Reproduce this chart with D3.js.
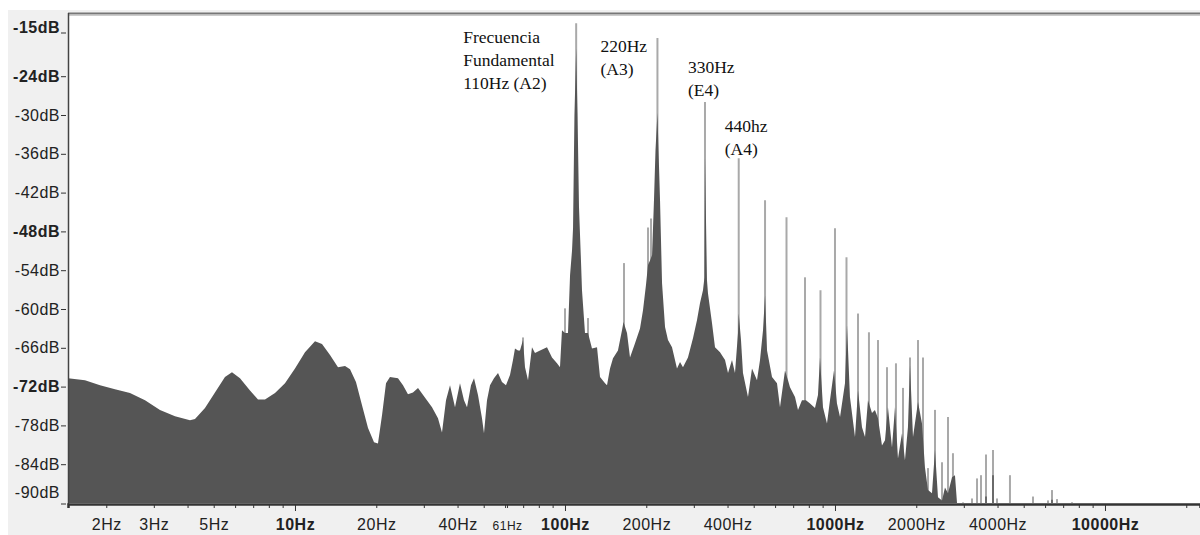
<!DOCTYPE html>
<html>
<head>
<meta charset="utf-8">
<script src="https://cdn.jsdelivr.net/npm/d3@7/dist/d3.min.js"></script>
<style>
  body { margin: 0; background: #fff; }
  #chart { width: 1200px; height: 535px; }
  .axis text { font-family: "Liberation Sans", Arial, sans-serif; font-size: 16px; fill: #222; letter-spacing: 0.5px; }
  .note { font-family: "Liberation Serif", "Times New Roman", serif; font-size: 17.5px; fill: #111; }
</style>
</head>
<body>
<div id="chart"></div>
<script>
/* spectrum envelope: frequency (Hz) and level (dB) */
const envFreq = [1.443, 1.668, 1.896, 2.154, 2.448, 2.783, 3.162, 3.594, 4.084, 4.262,
  4.642, 5.054, 5.503, 5.843, 6.256, 6.813, 7.295, 7.743, 8.434, 9.183,
  10, 10.89, 11.86, 12.59, 13.48, 14.43, 15.32, 15.99, 16.82, 17.71,
  18.64, 19.62, 20.29, 21.01, 21.73, 22.48, 24.07, 25.12, 26.21, 27.35,
  28.55, 30.04, 32.17, 33.85, 35.03, 36.25, 37.51, 39.14, 40.84, 42.26,
  43.36, 44.87, 46.03, 47.62, 49.27, 50.12, 51.42, 52.76, 54.58, 56.48,
  58.43, 60.45, 62.56, 64.18, 65.28, 66.98, 68.13, 69.9, 71.11, 72.95,
  75.47, 77.43, 80.81, 85.77, 89.51, 93.41, 95.83, 97.47, 100, 102.6,
  104.4, 106.2, 107.1, 108.4, 110, 111.3, 112.7, 114.6, 115.6, 118.6,
  121.7, 125.9, 131.4, 134.8, 140.7, 143.1, 146.8, 150.6, 157.1, 162.6,
  164.7, 169.7, 174.1, 181.7, 189.6, 194.5, 199.5, 203, 206.5, 210.1,
  213.6, 216.4, 220, 222, 224.9, 228.8, 234.7, 240.7, 249.1, 259.9,
  266.7, 273.5, 285.4, 298, 308.3, 316.2, 324.4, 328.6, 330, 335.6,
  338.6, 350.4, 359.4, 375.1, 391.5, 401.6, 415.5, 426.2, 437.3, 440,
  448.6, 456.3, 476.2, 492.7, 514.2, 527.6, 541.3, 550.7, 560.2, 584.4,
  609.8, 625.6, 652.9, 669.8, 681.3, 711, 729.5, 754.7, 780.8, 808.1,
  843.2, 865, 879.9, 902.7, 934, 958.2, 991.5, 1017, 1044, 1089,
  1108, 1136, 1186, 1217, 1259, 1292, 1325, 1371, 1406, 1443,
  1493, 1532, 1571, 1626, 1668, 1711, 1771, 1816, 1863, 1896,
  1945, 2030, 2100, 2154, 2210, 2287, 2346, 2407, 2491, 2555,
  2621, 2713, 2782, 2831];
const envDb = [-70.7, -71.0, -71.8, -72.4, -73.0, -74.1, -75.6, -76.6, -77.2, -77.0,
  -75.3, -72.9, -70.5, -69.8, -70.7, -72.6, -74.0, -74.0, -73.0, -71.5,
  -69.2, -66.7, -65.0, -65.4, -67.1, -69.0, -68.8, -69.3, -71.3, -74.9,
  -78.4, -80.6, -80.8, -76.4, -71.5, -70.5, -70.7, -71.8, -73.2, -72.9,
  -72.2, -73.5, -75.2, -76.9, -79.1, -74.1, -71.8, -75.2, -71.5, -74.1,
  -75.2, -71.8, -70.7, -73.3, -76.9, -79.2, -74.1, -71.8, -70.7, -69.9,
  -71.3, -71.8, -70.2, -67.9, -66.1, -66.4, -66.4, -64.8, -69.0, -71.0,
  -65.9, -66.8, -66.4, -65.9, -67.5, -68.4, -69.0, -63.3, -63.7, -63.7,
  -54.8, -50.9, -47.5, -30.0, -19.7, -30.0, -44.3, -52.5, -57.1, -63.7,
  -63.7, -66.1, -65.9, -70.5, -71.5, -71.8, -69.2, -67.6, -66.4, -63.3,
  -62.0, -63.7, -67.5, -65.3, -63.0, -60.2, -56.3, -53.2, -52.5, -51.7,
  -43.2, -35.4, -29.7, -35.4, -43.2, -56.0, -62.8, -64.8, -65.9, -69.2,
  -68.2, -69.0, -67.5, -64.5, -61.7, -59.1, -57.1, -55.1, -36.7, -55.5,
  -57.6, -62.2, -65.9, -66.7, -67.9, -69.9, -67.9, -69.9, -63.7, -60.7,
  -64.8, -69.9, -73.6, -69.2, -71.0, -67.9, -63.3, -57.9, -66.4, -70.5,
  -71.5, -75.2, -69.5, -71.0, -72.1, -73.6, -75.6, -74.1, -74.1, -74.6,
  -75.3, -73.3, -67.5, -75.2, -77.7, -74.1, -69.5, -74.6, -76.7, -71.5,
  -62.5, -73.6, -79.8, -72.6, -78.3, -79.8, -74.1, -76.1, -75.6, -76.9,
  -81.1, -80.3, -75.2, -81.4, -75.2, -83.1, -79.2, -83.4, -78.3, -68.7,
  -79.8, -74.4, -77.7, -84.5, -88.0, -88.5, -81.8, -89.1, -89.6, -87.6,
  -88.5, -86.0, -85.7, -90.0];

/* harmonic peaks (light lines) */
const peakFreq = [69.9, 100, 110, 121.7, 165.4, 203, 208.3, 220, 330, 440,
  550.7, 661.3, 774.4, 883.7, 1000, 1103, 1217, 1336, 1443, 1558,
  1682, 1786, 1896, 2030, 2118, 2210, 2346, 2491, 2621, 2735,
  2980, 3217, 3358, 3474, 3625, 3848, 3981, 4447, 5413, 6151,
  6364, 6643, 7548];
const peakDb = [-64.4, -59.9, -15.8, -61.4, -52.9, -47.4, -46.0, -18.1, -28.0, -36.7,
  -43.2, -45.8, -55.1, -57.1, -47.5, -52.0, -60.7, -63.6, -64.8, -69.0,
  -68.4, -72.2, -67.5, -64.8, -67.5, -84.6, -75.6, -83.7, -76.7, -82.3,
  -89.9, -89.3, -86.2, -85.7, -82.5, -81.8, -89.3, -85.7, -89.0, -89.6,
  -88.0, -89.4, -89.9];

/* isolated dark lines beyond the main body */
const darkFreq = [3625, 3848, 6364];
const darkDb = [-89.0, -85.7, -89.5];

const yTicks = [-15, -24, -30, -36, -42, -48, -54, -60, -66, -72, -78, -84, -90];
const yBold = [-15, -24, -48, -72];
const xLabels = [2, 3, 5, 10, 20, 40, 61, 100, 200, 400, 1000, 2000, 4000, 10000];
const xBold = [10, 100, 1000, 10000];

const noteText = [["Frecuencia", "Fundamental", "110Hz (A2)"], ["220Hz", "(A3)"], ["330Hz", "(E4)"], ["440hz", "(A4)"]];
const noteFreq = [110, 220, 330, 440];

const width = 1200, height = 535;
const margin = { top: 13, left: 68, right: 0, bottom: 31 };

const svg = d3.select("#chart").append("svg")
  .attr("width", width).attr("height", height);

// gray frame + white plot
svg.append("rect").attr("x", 8).attr("y", 10).attr("width", width - 8).attr("height", height - 10).attr("fill", "#f0f0f0");
svg.append("rect").attr("x", margin.left).attr("y", margin.top)
  .attr("width", width - margin.left).attr("height", height - margin.bottom - margin.top).attr("fill", "#fff");

const x = d3.scaleLog().domain([1.443, 22486]).range([margin.left, width - margin.right]);
const y = d3.scaleLinear().domain([-90, -15]).range([503, 18]);

const env = envFreq.map((f, i) => ({ f: f, db: envDb[i] }));
const peaks = peakFreq.map((f, i) => ({ f: f, db: peakDb[i] }));
const darks = darkFreq.map((f, i) => ({ f: f, db: darkDb[i] }));

// light peak lines behind the body
svg.append("g").selectAll("line").data(peaks).join("line")
  .attr("x1", d => x(d.f)).attr("x2", d => x(d.f))
  .attr("y1", y(-90)).attr("y2", d => y(d.db))
  .attr("stroke", "#a9a9a9").attr("stroke-width", 2);

const area = d3.area()
  .x(d => x(d.f))
  .y0(y(-90))
  .y1(d => y(d.db));

svg.append("path").datum(env)
  .attr("d", area)
  .attr("fill", "#555");

svg.append("g").selectAll("line").data(darks).join("line")
  .attr("x1", d => x(d.f)).attr("x2", d => x(d.f))
  .attr("y1", y(-90)).attr("y2", d => y(d.db))
  .attr("stroke", "#555").attr("stroke-width", 1.5);

// borders
svg.append("line").attr("x1", margin.left).attr("x2", width).attr("y1", 13.5).attr("y2", 13.5).attr("stroke", "#777").attr("stroke-width", 2);
svg.append("line").attr("x1", margin.left).attr("x2", width).attr("y1", 15.5).attr("y2", 15.5).attr("stroke", "#ccc").attr("stroke-width", 1);
svg.append("line").attr("x1", 68.5).attr("x2", 68.5).attr("y1", 13).attr("y2", 505).attr("stroke", "#444").attr("stroke-width", 1.5);

// y axis
const yAxis = svg.append("g").attr("class", "axis")
  .attr("transform", "translate(66,0)")
  .call(d3.axisLeft(y).tickValues(yTicks).tickSize(5).tickPadding(1).tickFormat(d => d + "dB"));
yAxis.select(".domain").remove();
yAxis.selectAll(".tick line").attr("stroke", "#333");
yAxis.selectAll(".tick text").attr("font-weight", d => yBold.includes(d) ? "bold" : "normal");
// end labels sit inside the range, with their dash offset
yAxis.selectAll(".tick").filter(d => d === -15).attr("transform", `translate(0,${y(-15) + 10})`)
  .select("line").attr("transform", "translate(0,5)");
yAxis.selectAll(".tick").filter(d => d === -90).attr("transform", `translate(0,${y(-90) - 10})`)
  .select("line").attr("transform", "translate(0,11)");

// x axis
const xTicks = [];
[1, 10, 100, 1000, 10000].forEach(dec => {
  for (let m = 1; m <= 9; m++) {
    const v = dec * m;
    if (v >= 1.5 && v <= 22000) xTicks.push(v);
  }
});
xTicks.push(61);

const xAxis = svg.append("g").attr("class", "axis")
  .attr("transform", `translate(0,${height - margin.bottom})`)
  .call(d3.axisBottom(x).tickValues(xTicks).tickSize(4).tickPadding(11)
    .tickFormat(d => xLabels.includes(d) ? d + "Hz" : ""));
xAxis.select(".domain").attr("stroke", "#333").attr("stroke-width", 2.5);
xAxis.selectAll(".tick line").attr("stroke", "#333").attr("y2", d => xBold.includes(d) ? 7 : 4);
xAxis.selectAll(".tick text")
  .attr("font-weight", d => xBold.includes(d) ? "bold" : "normal")
  .style("font-size", d => d === 61 ? "12px" : null)
  .attr("y", d => d === 61 ? 17 : 15);

// annotations
const noteDx = [-113, -57, -17, -14];
const noteY = [43, 52, 73, 132];
noteText.forEach((lines, i) => {
  const t = svg.append("text").attr("class", "note");
  lines.forEach((s, j) => {
    t.append("tspan").attr("x", x(noteFreq[i]) + noteDx[i]).attr("y", noteY[i] + j * 23).text(s);
  });
});
</script>
</body>
</html>
